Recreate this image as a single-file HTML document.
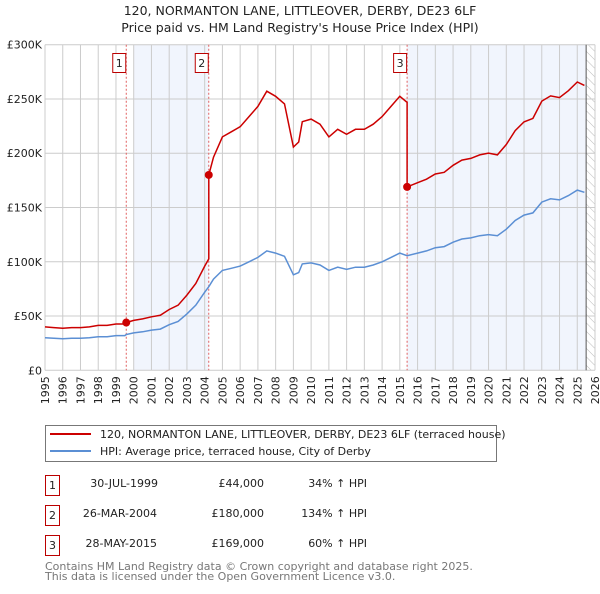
<!DOCTYPE html>
<html><head><meta charset="utf-8"><style>
body{margin:0;background:#fff;width:600px;height:590px;overflow:hidden;font-family:"DejaVu Sans","Liberation Sans",sans-serif}
svg text{font-family:"DejaVu Sans","Liberation Sans",sans-serif}
</style></head><body>
<svg id="chart" width="600" height="590" xmlns="http://www.w3.org/2000/svg">
<defs><pattern id="hatch" width="6" height="6" patternUnits="userSpaceOnUse" patternTransform="rotate(-45)"><line x1="0" y1="0" x2="0" y2="6" stroke="#bbb" stroke-width="1"/></pattern></defs>
<text x="300" y="15" text-anchor="middle" font-size="12.5" fill="#222">120, NORMANTON LANE, LITTLEOVER, DERBY, DE23 6LF</text>
<text x="300" y="32" text-anchor="middle" font-size="12.5" fill="#222">Price paid vs. HM Land Registry's House Price Index (HPI)</text>
<g id="plot"></g>
<g>
<rect x="45.5" y="425.5" width="451" height="36" fill="#fff" stroke="#777"/>
<line x1="50" y1="434" x2="91" y2="434" stroke="#cc0000" stroke-width="2"/>
<text x="100" y="438" font-size="11" fill="#222">120, NORMANTON LANE, LITTLEOVER, DERBY, DE23 6LF (terraced house)</text>
<line x1="50" y1="451" x2="91" y2="451" stroke="#5b8fd4" stroke-width="2"/>
<text x="100" y="455" font-size="11" fill="#222">HPI: Average price, terraced house, City of Derby</text>
</g>
<g font-size="11" fill="#222">
<rect x="45.5" y="475.5" width="14" height="20" fill="#fff" stroke="#b00"/><text x="52.5" y="489" text-anchor="middle">1</text>
<text x="158" y="487" text-anchor="end">30-JUL-1999</text><text x="264" y="487" text-anchor="end">£44,000</text><text x="367" y="487" text-anchor="end">34% ↑ HPI</text>
<rect x="45.5" y="505.5" width="14" height="20" fill="#fff" stroke="#b00"/><text x="52.5" y="519" text-anchor="middle">2</text>
<text x="157" y="517" text-anchor="end">26-MAR-2004</text><text x="264" y="517" text-anchor="end">£180,000</text><text x="367" y="517" text-anchor="end">134% ↑ HPI</text>
<rect x="45.5" y="535.5" width="14" height="20" fill="#fff" stroke="#b00"/><text x="52.5" y="549" text-anchor="middle">3</text>
<text x="157" y="547" text-anchor="end">28-MAY-2015</text><text x="264" y="547" text-anchor="end">£169,000</text><text x="367" y="547" text-anchor="end">60% ↑ HPI</text>
</g>
<text x="45" y="570" font-size="11" fill="#777">Contains HM Land Registry data © Crown copyright and database right 2025.</text>
<text x="45" y="580" font-size="11" fill="#777">This data is licensed under the Open Government Licence v3.0.</text>
</svg>
<script>
const hpiYears=[1995,1995.5,1996,1996.5,1997,1997.5,1998,1998.5,1999,1999.5,1999.58,2000,2000.5,2001,2001.5,2002,2002.5,2003,2003.5,2004,2004.23,2004.5,2005,2005.5,2006,2006.5,2007,2007.5,2008,2008.5,2009,2009.3,2009.5,2010,2010.5,2011,2011.5,2012,2012.5,2013,2013.5,2014,2014.5,2015,2015.41,2016,2016.5,2017,2017.5,2018,2018.5,2019,2019.5,2020,2020.5,2021,2021.5,2022,2022.5,2023,2023.5,2024,2024.5,2025,2025.4];
const hpiValues=[30,29.5,29,29.5,29.5,30,31,31,32,32,33,34.5,35.5,37,38,42,45,52,60,72,77,84,92,94,96,100,104,110,108,105,88,90,98,99,97,92,95,93,95,95,97,100,104,108,105.6,108,110,113,114,118,121,122,124,125,124,130,138,143,145,155,158,157,161,166,164];
const saleYears=[1999.58,2004.23,2015.41];
const salePrices=[44,180,169];
const saleLabels=["1","2","3"];
const yTicks=[0,50,100,150,200,250,300];
const yTickLabels=["£0","£50K","£100K","£150K","£200K","£250K","£300K"];
const xTicks=[1995,1996,1997,1998,1999,2000,2001,2002,2003,2004,2005,2006,2007,2008,2009,2010,2011,2012,2013,2014,2015,2016,2017,2018,2019,2020,2021,2022,2023,2024,2025,2026];

const X0=45,X1=595,Y0=370.3,Y1=44.7;
const xs=y=>X0+(y-1995)/(2026-1995)*(X1-X0);
const ys=v=>Y0-(v/300)*(Y0-Y1);
const NS="http://www.w3.org/2000/svg";
const g=document.getElementById('plot');
function mk(t,a){const e=document.createElementNS(NS,t);for(const k in a)e.setAttribute(k,a[k]);g.appendChild(e);return e;}
function hpiAt(t){for(let i=0;i<hpiYears.length-1;i++){if(t<=hpiYears[i+1]){const f=(t-hpiYears[i])/(hpiYears[i+1]-hpiYears[i]);return hpiValues[i]+f*(hpiValues[i+1]-hpiValues[i]);}}return hpiValues[hpiValues.length-1];}

// shading
let s=mk('rect',{x:xs(2000),y:Y1,width:xs(saleYears[1])-xs(2000),height:Y0-Y1,fill:'#eef3fc',opacity:0.8});

s=mk('rect',{x:xs(saleYears[2]),y:Y1,width:xs(2025.5)-xs(saleYears[2]),height:Y0-Y1,fill:'#eef3fc',opacity:0.8});

s=mk('rect',{x:xs(2025.5),y:Y1,width:X1-xs(2025.5),height:Y0-Y1,fill:'url(#hatch)'});

// grid
xTicks.forEach(t=>{const l=mk('line',{x1:xs(t),x2:xs(t),y1:Y1,y2:Y0,stroke:'#ccc','stroke-width':1});

const tx=mk('text',{x:0,y:0,'font-size':11,fill:'#222','text-anchor':'end',transform:`translate(${xs(t)+4},${Y0+6}) rotate(-90)`});tx.textContent=t;
});
yTicks.forEach((t,i)=>{const l=mk('line',{x1:X0,x2:X1,y1:ys(t),y2:ys(t),stroke:'#ccc','stroke-width':1});

const tx=mk('text',{x:X0-3,y:ys(t)+4,'font-size':11,fill:'#222','text-anchor':'end'});tx.textContent=yTickLabels[i];
});
let ed=mk('line',{x1:xs(2025.5),x2:xs(2025.5),y1:Y1,y2:Y0,stroke:'#555','stroke-width':1});

// sale lines
saleYears.forEach((t,i)=>{const l=mk('line',{x1:xs(t),x2:xs(t),y1:Y1,y2:Y0,stroke:'#e06060','stroke-width':1,'stroke-dasharray':'2,2'});

const r=mk('rect',{x:xs(t)-13.5,y:53.5,width:13,height:19,fill:'#fff',stroke:'#b00'});

const tx=mk('text',{x:xs(t)-7,y:67,'font-size':11,fill:'#222','text-anchor':'middle'});tx.textContent=saleLabels[i];
});
// hpi line
let d=hpiYears.map((t,i)=>(i?'L':'M')+xs(t).toFixed(1)+','+ys(hpiValues[i]).toFixed(1)).join('');
let p=mk('path',{d:d,fill:'none',stroke:'#5b8fd4','stroke-width':1.5});

// price line: HPI-indexed from each sale
let pts=[];
hpiYears.forEach((t,i)=>{let k=0;for(let j=0;j<saleYears.length;j++)if(t>=saleYears[j])k=j;
if(t<saleYears[0])k=0;
const f=salePrices[k]/hpiAt(saleYears[k]);
for(let j=1;j<saleYears.length;j++){ if(i>0&&hpiYears[i-1]<saleYears[j]&&t>=saleYears[j]){const fp=salePrices[j-1]/hpiAt(saleYears[j-1]);pts.push([saleYears[j],hpiAt(saleYears[j])*fp]);pts.push([saleYears[j],salePrices[j]]);}}
pts.push([t,hpiValues[i]*f]);});
d=pts.map((q,i)=>(i?'L':'M')+xs(q[0]).toFixed(1)+','+ys(q[1]).toFixed(1)).join('');
p=mk('path',{d:d,fill:'none',stroke:'#cc0000','stroke-width':1.5});

saleYears.forEach((t,i)=>{const c=mk('circle',{cx:xs(t),cy:ys(salePrices[i]),r:4,fill:'#cc0000'});
});
</script>
</body></html>
